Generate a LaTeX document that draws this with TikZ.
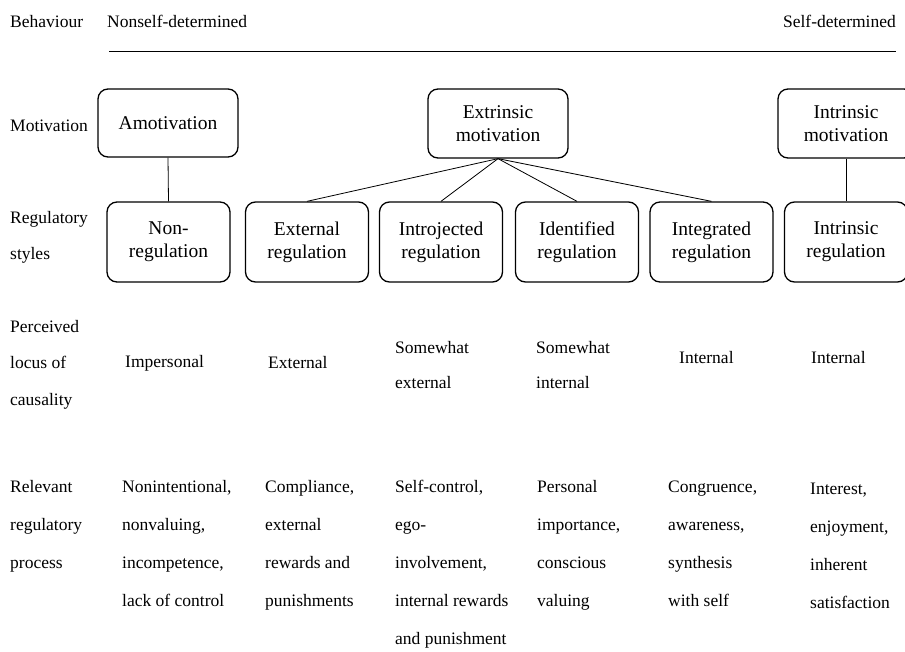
\documentclass[tikz,border=0pt]{standalone}
\usepackage{fontspec}
\setmainfont{Liberation Serif}
\newcommand{\mycol}[2]{{\fontsize{17.5}{#1}\selectfont\begin{tabular}[t]{@{}l@{}}#2\end{tabular}}}
\begin{document}
\begin{tikzpicture}[x=1pt,y=-1pt,
  box/.style={draw, line width=1.3pt, rounded corners=10pt, align=center,
    font=\fontsize{19.5}{23}\selectfont, inner sep=0pt},
  motbox/.style={box, minimum width=140pt, minimum height=68pt},
  regbox/.style={box, minimum width=123pt, minimum height=80pt},
  lbl/.style={anchor=base west, inner sep=0pt, font=\fontsize{17.5}{21}\selectfont},
  conn/.style={line width=0.8pt}]
\useasboundingbox (0,0) rectangle (905,651);
\fill[white] (0,0) rectangle (905,651);
\clip (0,0) rectangle (905,651);

% header
\node[lbl] (beh) at (10,27) {Behaviour};
\node[lbl] (nsd) at (107,27) {Nonself-determined};
\node[lbl, anchor=base east] (sd) at (896,27) {Self-determined};
\coordinate (ruleL) at (109,51);
\coordinate (ruleR) at (896,51);
\draw[conn] (ruleL) -- (ruleR);

% row labels
\node[lbl] (lmot) at (10,131) {Motivation};
\node[lbl] (lreg) at (10,223) {\mycol{36}{Regulatory\\styles}};
\node[lbl] (lloc) at (10,332) {\mycol{36.5}{Perceived\\locus of\\causality}};
\node[lbl] (lproc) at (10,492) {\mycol{38}{Relevant\\regulatory\\process}};

% motivation boxes
\node[motbox] (amot) at (168,123) {Amotivation};
\node[motbox, minimum height=69pt] (extr) at (498,123.5) {Extrinsic\\motivation};
\node[motbox, minimum width=136pt, minimum height=69pt] (intr) at (846,123.5) {Intrinsic\\motivation};

% regulatory boxes
\node[regbox] (nonreg) at (168.5,242) {Non-\\regulation};
\node[regbox] (extreg) at (307,242) {External\\regulation};
\node[regbox] (introreg) at (441,242) {Introjected\\regulation};
\node[regbox] (identreg) at (577,242) {Identified\\regulation};
\node[regbox] (integreg) at (711.5,242) {Integrated\\regulation};
\node[regbox] (intrreg) at (846,242) {Intrinsic\\regulation};

% connectors
\draw[conn] (amot.south) -- (nonreg.north);
\draw[conn] (extr.south) -- (extreg.north);
\draw[conn] (extr.south) -- (introreg.north);
\draw[conn] (extr.south) -- (identreg.north);
\draw[conn] (extr.south) -- (integreg.north);
\draw[conn] (intr.south) -- (intrreg.north);

% locus row
\node[lbl] (loc1) at (125,367) {Impersonal};
\node[lbl] (loc2) at (268,368) {External};
\node[lbl] (loc3) at (395,353) {\mycol{35.5}{Somewhat\\external}};
\node[lbl] (loc4) at (536,353) {\mycol{35.5}{Somewhat\\internal}};
\node[lbl] (loc5) at (679,363) {Internal};
\node[lbl] (loc6) at (811,363) {Internal};

% process row
\node[lbl] (pr1) at (122,492) {\mycol{38}{Nonintentional,\\nonvaluing,\\incompetence,\\lack of control}};
\node[lbl] (pr2) at (265,492) {\mycol{38}{Compliance,\\external\\rewards and\\punishments}};
\node[lbl] (pr3) at (395,492) {\mycol{38}{Self-control,\\ego-\\involvement,\\internal rewards\\and punishment}};
\node[lbl] (pr4) at (537,492) {\mycol{38}{Personal\\importance,\\conscious\\valuing}};
\node[lbl] (pr5) at (668,492) {\mycol{38}{Congruence,\\awareness,\\synthesis\\with self}};
\node[lbl] (pr6) at (810,494) {\mycol{38}{Interest,\\enjoyment,\\inherent\\satisfaction}};
\end{tikzpicture}
\end{document}
